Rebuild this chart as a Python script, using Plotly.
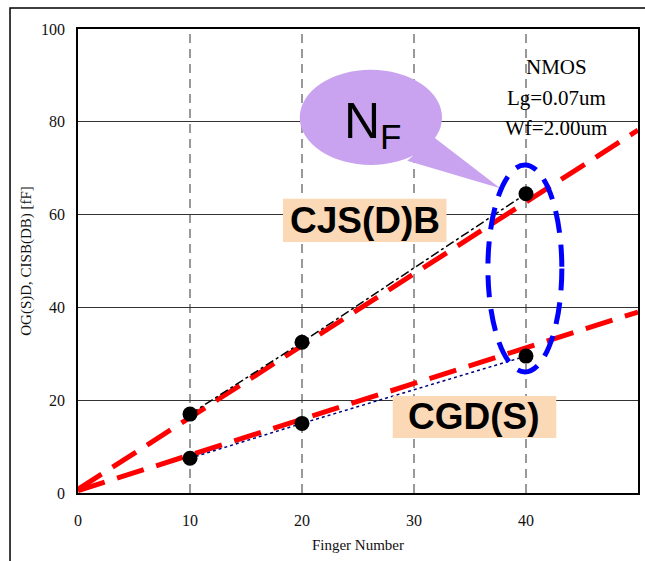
import plotly.graph_objects as go

# ---- data ----
fingers = [10, 20, 40]
cjsb = [17.0, 32.5, 64.5]
cgd = [7.5, 15.0, 29.5]
fit_x = [0, 50]
cjsb_fit = [0.8, 78.2]
cgd_fit = [0.5, 39.0]
x_ticks = [0, 10, 20, 30, 40, 50]
y_ticks = [0, 20, 40, 60, 80, 100]
info_lines = ["NMOS", "Lg=0.07um", "Wf=2.00um"]
info_y = [91.9, 85.1, 78.7]

serif = "Liberation Serif"
sans = "Liberation Sans"

fig = go.Figure()

# fit lines (red dashed)
fig.add_trace(go.Scatter(x=fit_x, y=cjsb_fit, mode="lines",
                         line=dict(color="#ff0000", width=5, dash="28px,13px"),
                         showlegend=False, hoverinfo="skip"))
fig.add_trace(go.Scatter(x=fit_x, y=cgd_fit, mode="lines",
                         line=dict(color="#ff0000", width=5, dash="28px,13px"),
                         showlegend=False, hoverinfo="skip"))
# measured data
fig.add_trace(go.Scatter(x=fingers, y=cjsb, mode="lines+markers",
                         line=dict(color="black", width=1.5, dash="dashdot"),
                         marker=dict(color="black", size=15),
                         showlegend=False))
fig.add_trace(go.Scatter(x=fingers, y=cgd, mode="lines+markers",
                         line=dict(color="#000080", width=1.5, dash="dot"),
                         marker=dict(color="black", size=15),
                         showlegend=False))

shapes = []
# outer frame
shapes.append(dict(type="rect", xref="paper", yref="paper",
                   x0=-0.1214, x1=1.2, y0=-0.3, y1=1.045,
                   line=dict(color="black", width=1.5), layer="below"))
# vertical dashed gridlines
for xv in [10, 20, 30, 40]:
    shapes.append(dict(type="line", x0=xv, x1=xv, y0=0, y1=100,
                       line=dict(color="#333333", width=1, dash="9px,6px"),
                       layer="below"))
# callout bubble
shapes.append(dict(type="circle", x0=19.8, x1=32.5, y0=70.7, y1=91.2,
                   fillcolor="rgb(201,162,240)", line=dict(width=0), layer="above"))
shapes.append(dict(type="path", path="M 31.8,76.6 L 37.7,65.7 L 29.4,71.6 Z",
                   fillcolor="rgb(201,162,240)", line=dict(width=0), layer="above"))
# label boxes
shapes.append(dict(type="rect", x0=18.3, x1=32.9, y0=54.1, y1=63.4,
                   fillcolor="#fbd8b6", line=dict(width=0), layer="above"))
shapes.append(dict(type="rect", x0=28.1, x1=42.7, y0=11.85, y1=20.9,
                   fillcolor="#fbd8b6", line=dict(width=0), layer="above"))
# blue dashed ellipse
shapes.append(dict(type="circle", x0=36.6, x1=43.2, y0=26.1, y1=70.7,
                   line=dict(color="#0000ff", width=5, dash="22px,12px"),
                   layer="above"))

annotations = [
    dict(x=25.6, y=58.8, text="<b>CJS(D)B</b>", showarrow=False,
         font=dict(family=sans, size=37, color="black")),
    dict(x=35.4, y=16.4, text="<b>CGD(S)</b>", showarrow=False,
         font=dict(family=sans, size=37, color="black")),
    dict(x=26.3, y=79.5, text="N<sub>F</sub>", showarrow=False,
         font=dict(family=sans, size=50, color="black")),
]
for t, yv in zip(info_lines, info_y):
    annotations.append(dict(x=42.7, y=yv, text=t, showarrow=False,
                            font=dict(family=serif, size=21, color="black")))

fig.update_layout(
    width=645, height=561,
    margin=dict(l=78, r=7, t=29, b=68),
    paper_bgcolor="white", plot_bgcolor="white",
    shapes=shapes, annotations=annotations,
    font=dict(family=serif, color="black"),
)
fig.update_xaxes(range=[0, 50], tickvals=x_ticks, showgrid=False, zeroline=False,
                 automargin=False,
                 showline=True, mirror=True, linecolor="black", linewidth=1.5,
                 ticks="outside", ticklen=12, tickcolor="rgba(0,0,0,0)",
                 tickfont=dict(family=serif, size=16, color="#111"),
                 title=dict(text="Finger Number", standoff=12,
                            font=dict(family=serif, size=15, color="#111")))
fig.update_yaxes(range=[0, 100], tickvals=y_ticks, showgrid=True,
                 automargin=False,
                 gridcolor="#333333", gridwidth=1, zeroline=False,
                 showline=True, mirror=True, linecolor="black", linewidth=1.5,
                 ticks="outside", ticklen=8, tickcolor="rgba(0,0,0,0)",
                 tickfont=dict(family=serif, size=16, color="#111"),
                 title=dict(text="OG(S)D, CISB(DB) [fF]", standoff=6,
                            font=dict(family=serif, size=15, color="#111")))

fig.write_html("out.html")
